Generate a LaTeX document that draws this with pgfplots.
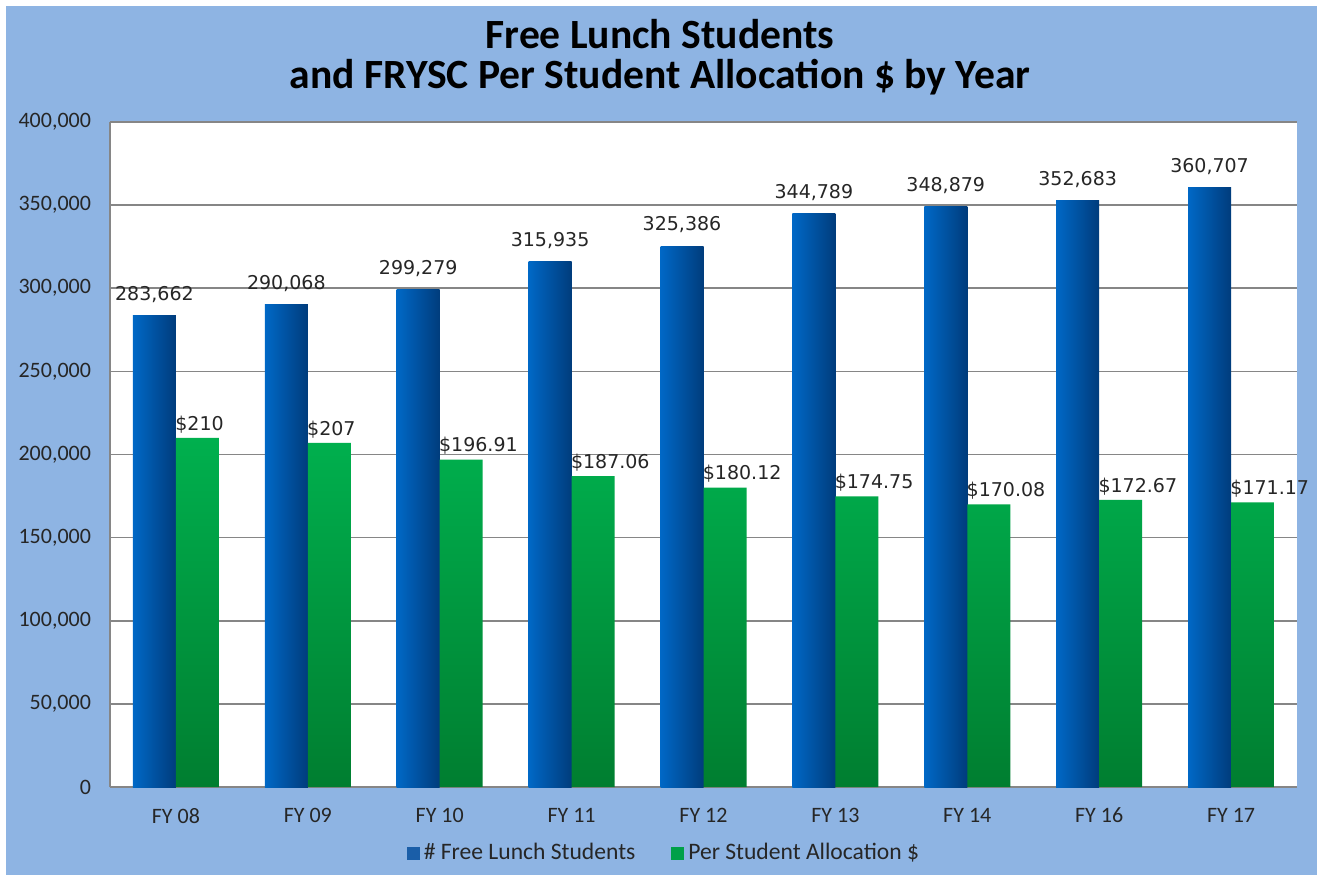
\documentclass[border=0pt]{standalone}
\usepackage{pgfplots}
\pgfplotsset{compat=1.18}
\usepackage{pgfplotstable}
\usepackage{fontspec}
\setmainfont{Carlito}
\newfontfamily\labfont{DejaVu Sans}
\definecolor{bgblue}{HTML}{8EB4E3}
\definecolor{blueL}{HTML}{0068C6}
\definecolor{blueR}{HTML}{003C7C}
\definecolor{greenT}{HTML}{00B04E}
\definecolor{greenB}{HTML}{007E30}
\definecolor{legblue}{HTML}{1A5EA8}
\definecolor{leggreen}{HTML}{00A048}
\definecolor{gridgray}{HTML}{868686}
\definecolor{txt}{HTML}{262626}

\pgfplotstableread{
x y lab
0 283662 283,662
1 290068 290,068
2 299279 299,279
3 315935 315,935
4 325386 325,386
5 344789 344,789
6 348879 348,879
7 352683 352,683
8 360707 360,707
}\lunch

\pgfplotstableread{
x y lab
0 210000 210
1 207000 207
2 196910 196.91
3 187060 187.06
4 180120 180.12
5 174750 174.75
6 170080 170.08
7 172670 172.67
8 171170 171.17
}\alloc

\begin{document}
\begin{tikzpicture}[x=1pt,y=1pt]
\fill[white] (0,0) rectangle (658.5,437.5);
\fill[bgblue] (3,0) rectangle (658.5,434.5);
\node[font=\bfseries\fontsize{20.8}{22}\selectfont, text=black, anchor=base] at (330,413) {Free Lunch Students};
\node[font=\bfseries\fontsize{20.8}{22}\selectfont, text=black, anchor=base] at (330,393) {and FRYSC Per Student Allocation \$ by Year};
\begin{axis}[
  at={(55pt,44pt)}, anchor=south west,
  scale only axis, width=593.5pt, height=332.5pt,
  axis background/.style={fill=white},
  xmin=-0.5, xmax=8.5, ymin=0, ymax=400000,
  xtick={0,...,8},
  xticklabels={FY 08,FY 09,FY 10,FY 11,FY 12,FY 13,FY 14,FY 16,FY 17},
  ytick={0,50000,...,400000},
  scaled y ticks=false,
  /pgf/number format/fixed,
  /pgf/number format/1000 sep={,},
  /pgf/number format/assume math mode=true,
  yticklabel style={font=\fontsize{11}{12}\selectfont, text=txt, xshift=-6pt},
  xticklabel style={font=\fontsize{11}{12}\selectfont, text=txt, yshift=-7pt},
  major tick length=0pt,
  ymajorgrids, grid style={gridgray, line width=0.8pt},
  axis line style={gridgray, line width=0.8pt},
  axis x line*=bottom, axis y line*=left,
  legend style={at={(0.4676,-42pt)}, anchor=south, draw=none, fill=none,
    legend columns=2, font=\fontsize{11.8}{12}\selectfont, text=txt,
    /tikz/every even column/.append style={column sep=16pt}},
  legend image code/.code={\fill[#1] (0pt,-3pt) rectangle (6pt,3pt);},
  clip=false,
]
\addlegendimage{legblue}
\addlegendentry{\# Free Lunch Students}
\addlegendimage{leggreen}
\addlegendentry{Per Student Allocation \$}
\pgfplotsinvokeforeach{0,...,8}{
\addplot[ybar, bar width=21.5pt, bar shift=-10.75pt, draw=none,
  left color=blueL, right color=blueR, forget plot,
  restrict x to domain=#1:#1,
  nodes near coords, point meta=explicit symbolic,
  every node near coord/.append style={font=\labfont\fontsize{9.5}{10}\selectfont, text=txt, xshift=-10.75pt, yshift=3pt}]
  table[x=x, y=y, meta=lab] {\lunch};
}
\addplot[ybar, bar width=21.5pt, bar shift=10.75pt, draw=none,
  top color=greenT, bottom color=greenB, forget plot,
  nodes near coords={\$\pgfplotspointmeta}, point meta=explicit symbolic,
  every node near coord/.append style={font=\labfont\fontsize{9.5}{10}\selectfont, text=txt, anchor=south west, xshift=-0.5pt, yshift=-1pt, inner xsep=0pt}]
  table[x=x, y=y, meta=lab] {\alloc};
\end{axis}
\end{tikzpicture}
\end{document}
